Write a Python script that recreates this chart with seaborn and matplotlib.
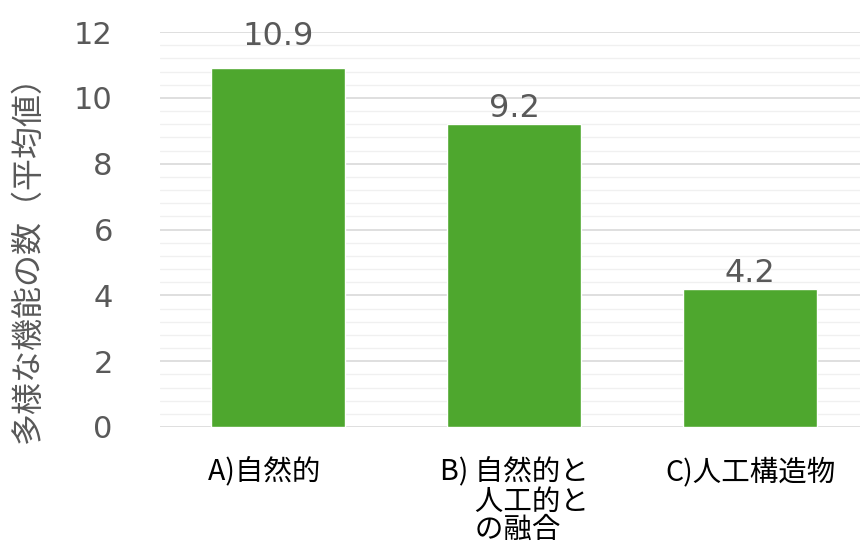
import numpy as np
import pandas as pd
import matplotlib
matplotlib.use("Agg")
import matplotlib.pyplot as plt
from matplotlib.ticker import MultipleLocator
import seaborn as sns

# chart data
categories = ["A", "B", "C"]
values = [10.9, 9.2, 4.2]
tick_labels = ["A)自然的　", "B) 自然的と\n　 人工的と\n　 の融合", "C)人工構造物"]
y_label = "多様な機能の数（平均値）"
y_ticks = [0, 2, 4, 6, 8, 10, 12]

bar_color = "#4EA72E"
text_grey = "#595959"

sns.set_theme(style="white")
plt.rcParams["font.family"] = ["Noto Sans CJK JP", "DejaVu Sans"]

df = pd.DataFrame({"category": categories, "value": values})

fig = plt.figure(figsize=(8.6, 5.48), dpi=100)
ax = fig.add_axes([160 / 860, 1 - 427 / 548, 700 / 860, 395 / 548])

sns.barplot(data=df, x="category", y="value", color=bar_color, width=0.565,
            saturation=1, ax=ax, zorder=3)

ax.set_ylim(0, 12)
ax.set_xlim(-0.5, 2.466)
ax.set_yticks(y_ticks)
ax.yaxis.set_minor_locator(MultipleLocator(0.4))
ax.grid(axis="y", which="major", color="#d9d9d9", linewidth=1.2, zorder=0)
ax.grid(axis="y", which="minor", color="#f0f0f0", linewidth=1.0, zorder=0)
ax.set_axisbelow(True)
for s in ax.spines.values():
    s.set_visible(False)

ax.set_xticks(range(len(categories)))
ax.set_xticklabels(tick_labels)
ax.tick_params(axis="y", which="both", length=0, pad=34, labelsize=22,
               labelcolor=text_grey)
ax.tick_params(axis="x", length=0, pad=22, labelsize=20.5, labelcolor="black")
for lbl in ax.get_yticklabels():
    lbl.set_fontfamily(["DejaVu Sans"])
for lbl in ax.get_xticklabels():
    lbl.set_linespacing(0.95)
    lbl.set_multialignment("left")

ax.set_xlabel("")
ax.set_ylabel(y_label, fontsize=23, color=text_grey)
ax.yaxis.set_label_coords(-116 / 700, 0.446)

# value labels just above bars; the one near the top is lifted into the
# top margin like Excel does
for i, v in enumerate(values):
    y = v + 0.21 if v < 10 else 11.6
    ax.text(i, y, f"{v:.1f}", ha="center", va="baseline", fontsize=23,
            color=text_grey, family=["DejaVu Sans"], clip_on=False)

fig.savefig("out.png", dpi=100)
